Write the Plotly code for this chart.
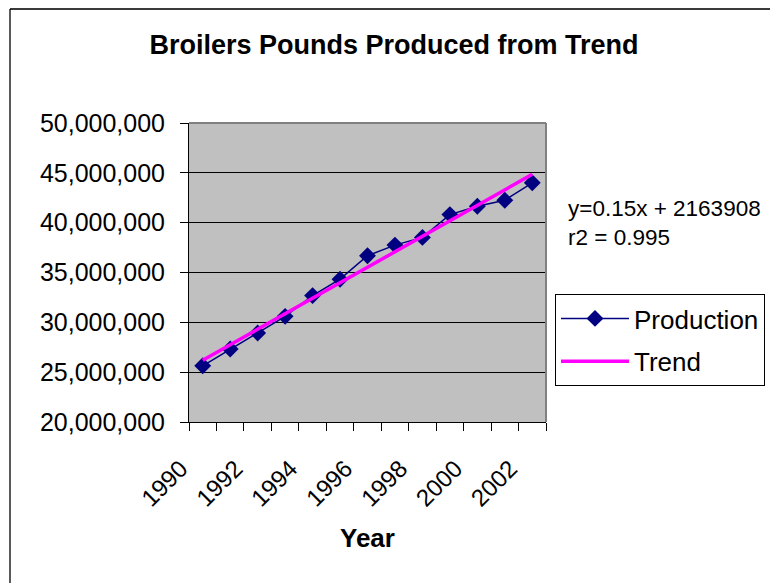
import plotly.graph_objects as go

# Broiler production by year with its fitted linear trend
years = [1990, 1991, 1992, 1993, 1994, 1995, 1996, 1997, 1998, 1999, 2000, 2001, 2002]
production = [25640000, 27320000, 28930000, 30600000, 32680000, 34330000, 36680000,
              37750000, 38520000, 40810000, 41640000, 42250000, 44000000]
trend = [26200000, 27750000, 29300000, 30800000, 32400000, 33950000, 35500000,
         37100000, 38650000, 40150000, 41700000, 43250000, 44850000]
label_years = [1990, 1992, 1994, 1996, 1998, 2000, 2002]
label_text = [str(y) for y in label_years]
y_ticks = [20000000, 25000000, 30000000, 35000000, 40000000, 45000000, 50000000]

FONT = "Liberation Sans, Arial, sans-serif"

# plot-area placement in pixels (770 x 583 canvas)
L, R, T, B = 189, 546, 123, 422
W, H = 770, 583


def px_x(p):
    return (p - L) / (R - L)


def px_y(p):
    return (B - p) / (B - T)


fig = go.Figure()

fig.add_trace(go.Scatter(
    x=years, y=production, name="Production", mode="lines+markers",
    line=dict(color="#000080", width=1.5),
    marker=dict(symbol="diamond", size=13, color="#000080"),
    legendgroup="p",
))
fig.add_trace(go.Scatter(
    x=years, y=trend, name="Trend", mode="lines",
    line=dict(color="#FF00FF", width=3.5),
    legendgroup="t",
))

fig.update_layout(
    width=W, height=H,
    margin=dict(l=L, r=W - R, t=T, b=H - B, pad=0, autoexpand=False),
    paper_bgcolor="white",
    plot_bgcolor="#C0C0C0",
    font=dict(family=FONT, color="black"),
    title=dict(
        text="<b>Broilers Pounds Produced from Trend</b>",
        font=dict(size=27, family=FONT, color="black"),
        x=394 / W, xanchor="center", xref="container",
        y=1 - 45 / H, yanchor="middle", yref="container",
    ),
    showlegend=True,
    legend=dict(
        x=px_x(555), xanchor="left", y=px_y(294), yanchor="top",
        bordercolor="black", borderwidth=1, bgcolor="white",
        font=dict(size=26, family=FONT, color="black"),
        tracegroupgap=6, itemwidth=68,
    ),
)

fig.update_xaxes(
    range=[1989.5, 2002.5],
    tickmode="array", tickvals=label_years, ticktext=label_text,
    tickangle=-45, ticks="", ticklen=0,
    ticklabelstandoff=22, ticklabelshift=-22,
    tickfont=dict(size=24, family=FONT, color="black"),
    showgrid=False, zeroline=False,
    showline=True, linecolor="black", linewidth=1,
    minor=dict(tick0=1989.5, dtick=1, ticks="outside", ticklen=8,
               tickcolor="black", tickwidth=1, showgrid=False),
)
fig.update_yaxes(
    range=[20000000, 50000000],
    tickmode="array", tickvals=y_ticks, tickformat=",d",
    ticks="outside", ticklen=8, tickcolor="black", tickwidth=1,
    ticklabelstandoff=10,
    tickfont=dict(size=25, family=FONT, color="black"),
    showgrid=True, gridcolor="black", gridwidth=1,
    zeroline=False, showline=True, linecolor="black", linewidth=1,
)

# grey top and right edges of the plot area
fig.add_shape(type="line", xref="paper", yref="paper", x0=0, x1=1, y0=1, y1=1,
              line=dict(color="#808080", width=2))
fig.add_shape(type="line", xref="paper", yref="paper", x0=1, x1=1, y0=0, y1=1,
              line=dict(color="#808080", width=2))

# outer chart frame
fig.add_shape(type="line", xref="paper", yref="paper",
              x0=px_x(10), x1=px_x(W + 5), y0=px_y(9), y1=px_y(9),
              line=dict(color="#3a3a3a", width=2))
fig.add_shape(type="line", xref="paper", yref="paper",
              x0=px_x(10), x1=px_x(10), y0=px_y(9), y1=px_y(H + 5),
              line=dict(color="black", width=1.3))

# axis title
fig.add_annotation(
    text="<b>Year</b>", xref="paper", yref="paper",
    x=px_x(367), y=px_y(538), xanchor="center", yanchor="middle",
    showarrow=False, font=dict(size=26, family=FONT, color="black"),
)

# regression equation
fig.add_annotation(
    text="y=0.15x + 2163908<br>r2 = 0.995", xref="paper", yref="paper",
    x=px_x(566), y=px_y(223), xanchor="left", yanchor="middle", align="left",
    showarrow=False, font=dict(size=22.5, family=FONT, color="black"),
)

fig.write_html("out.html")
